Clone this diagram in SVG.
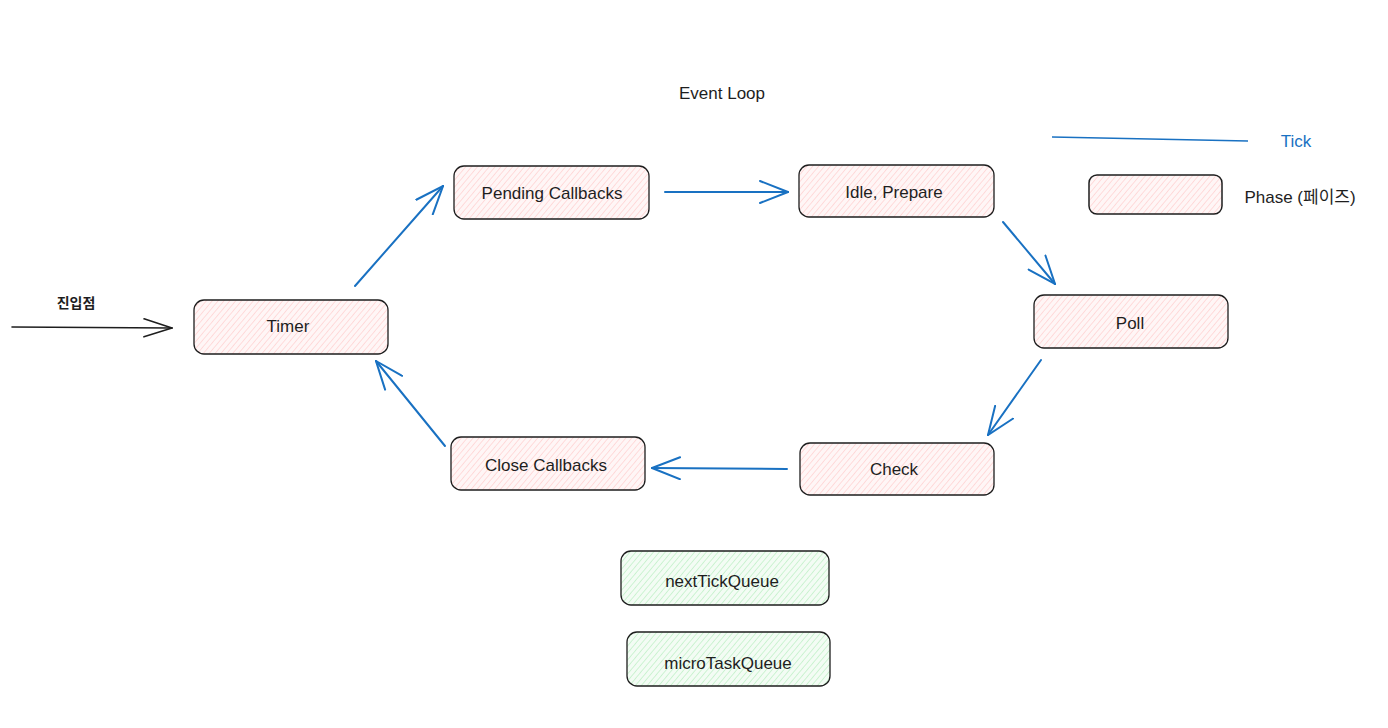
<svg xmlns="http://www.w3.org/2000/svg" width="1388" height="728" viewBox="0 0 1388 728">
<style>
.node rect.b{stroke:#1e1e1e;stroke-width:1.3}
.pink{fill:url(#hatchPink)}
.green{fill:url(#hatchGreen)}
.lbl{font-family:"Liberation Sans","Noto Sans CJK KR",sans-serif;font-size:17px;fill:#1e1e1e;text-anchor:middle;dominant-baseline:central}
.conn path{fill:none;stroke-width:2;stroke-linecap:round}
.blue{stroke:#1971c2}
</style>
<defs>
<pattern id="hatchPink" patternUnits="userSpaceOnUse" width="4.5" height="4.5" patternTransform="rotate(40)">
<rect width="4.5" height="4.5" fill="#fff6f6"/>
<line x1="0" y1="0" x2="0" y2="4.5" stroke="#ffc0c0" stroke-width="1"/>
</pattern>
<pattern id="hatchGreen" patternUnits="userSpaceOnUse" width="4.5" height="4.5" patternTransform="rotate(40)">
<rect width="4.5" height="4.5" fill="#f3fcf4"/>
<line x1="0" y1="0" x2="0" y2="4.5" stroke="#a8ebb2" stroke-width="1"/>
</pattern>
<marker id="ah" viewBox="0 0 30 24" refX="29" refY="12" markerWidth="30" markerHeight="24" markerUnits="userSpaceOnUse" orient="auto">
<path d="M1,1 L29,12 L1,23" fill="none" stroke="#1971c2" stroke-width="2" stroke-linecap="round"/>
</marker>
<marker id="ahk" viewBox="0 0 30 24" refX="29" refY="12" markerWidth="30" markerHeight="24" markerUnits="userSpaceOnUse" orient="auto">
<path d="M1,3 L29,12 L1,21" fill="none" stroke="#1e1e1e" stroke-width="1.6" stroke-linecap="round"/>
</marker>
</defs>
<rect width="1388" height="728" fill="#ffffff"/>

<text class="lbl" x="722" y="93">Event Loop</text>
<text class="lbl" x="76" y="303" style="font-size:14px;font-weight:bold">진입점</text>

<g id="legend">
<path d="M1052,137 L1248,141" fill="none" stroke="#1971c2" stroke-width="1.6"/>
<text class="lbl" x="1296" y="141" style="fill:#1971c2">Tick</text>
<rect class="pink" x="1089" y="175" width="133" height="39" rx="8" stroke="#1e1e1e" stroke-width="1.5"/>
<text class="lbl" x="1300" y="197">Phase (페이즈)</text>
</g>

<g id="node-timer" class="node">
<rect class="pink b" x="194" y="300" width="194" height="54" rx="10"/>
<text class="lbl" x="288" y="326">Timer</text>
</g>
<g id="node-pending" class="node">
<rect class="pink b" x="454" y="166" width="195" height="53" rx="10"/>
<text class="lbl" x="552" y="193">Pending Callbacks</text>
</g>
<g id="node-idle" class="node">
<rect class="pink b" x="799" y="165" width="195" height="52" rx="10"/>
<text class="lbl" x="894" y="192">Idle, Prepare</text>
</g>
<g id="node-poll" class="node">
<rect class="pink b" x="1034" y="295" width="194" height="53" rx="10"/>
<text class="lbl" x="1130" y="323">Poll</text>
</g>
<g id="node-check" class="node">
<rect class="pink b" x="800" y="443" width="194" height="52" rx="10"/>
<text class="lbl" x="894" y="469">Check</text>
</g>
<g id="node-close" class="node">
<rect class="pink b" x="451" y="437" width="194" height="53" rx="10"/>
<text class="lbl" x="546" y="465">Close Callbacks</text>
</g>
<g id="node-nexttick" class="node">
<rect class="green b" x="621" y="551" width="208" height="54" rx="10"/>
<text class="lbl" x="722" y="581">nextTickQueue</text>
</g>
<g id="node-microtask" class="node">
<rect class="green b" x="627" y="632" width="203" height="54" rx="10"/>
<text class="lbl" x="728" y="663">microTaskQueue</text>
</g>

<g id="connectors" class="conn">
<path d="M12,327 L172,328" stroke="#1e1e1e" marker-end="url(#ahk)" style="stroke-width:1.6"/>
<path class="blue" d="M355,286 L443,186" marker-end="url(#ah)"/>
<path class="blue" d="M665,192 L788,192" marker-end="url(#ah)"/>
<path class="blue" d="M1003,222 L1055,284" marker-end="url(#ah)"/>
<path class="blue" d="M1041,360 L988,435" marker-end="url(#ah)"/>
<path class="blue" d="M787,469 L652,468" marker-end="url(#ah)"/>
<path class="blue" d="M445,446 L376,361" marker-end="url(#ah)"/>
</g>
</svg>
